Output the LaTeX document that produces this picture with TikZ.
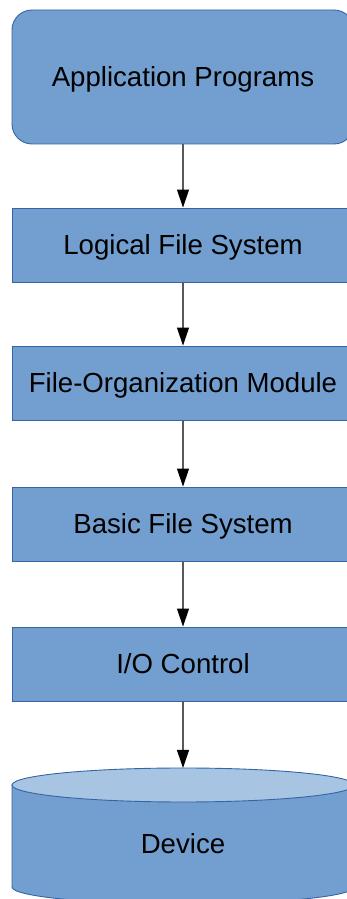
\documentclass[tikz,border=0pt]{standalone}
\usepackage{fontspec}
\setmainfont{Liberation Sans}
\usetikzlibrary{arrows.meta}
\definecolor{boxfill}{HTML}{729FCF}
\definecolor{boxline}{HTML}{3465A4}
\definecolor{lidfill}{HTML}{A7C4E3}
\definecolor{wire}{HTML}{595959}
\tikzset{
  label text/.style={font=\fontsize{27.6}{33}\selectfont, text=black,
    text height=24pt, text depth=4pt},
  layer/.style={label text, draw=boxline, fill=boxfill, line width=0.9pt,
    minimum width=342pt, minimum height=74pt, inner sep=0pt},
  toplayer/.style={layer, minimum height=134pt, rounded corners=20pt},
  flow/.style={draw=wire, line width=1.1pt,
    -{Triangle[length=18pt,width=12pt,color=black,fill=black]}},
}
\begin{document}
\begin{tikzpicture}[x=1pt,y=1pt]
\useasboundingbox (0,0) rectangle (347,899);
\clip (0,0) rectangle (347,899);

% stack of layers
\node[toplayer] (app) at (183,822) {Application Programs};
\node[layer] (lfs) at (183,654) {Logical File System};
\node[layer] (fom) at (183,516) {File-Organization Module};
\node[layer] (bfs) at (183,375) {Basic File System};
\node[layer] (ioc) at (183,235) {I/O Control};

% storage device drawn as a cylinder
\path[fill=boxfill, draw=boxline, line width=0.9pt]
  (12,114) -- (12,12) arc[start angle=180, end angle=360, x radius=171, y radius=17]
  -- (354,114);
\path[fill=lidfill, draw=boxline, line width=0.9pt]
  (183,114) ellipse [x radius=171, y radius=17];
\coordinate (devtop) at (183,131);
\node[label text, inner sep=0pt] (dev) at (183,55) {Device};

% connectors
\draw[flow] (app.south) -- (lfs.north);
\draw[flow] (lfs.south) -- (fom.north);
\draw[flow] (fom.south) -- (bfs.north);
\draw[flow] (bfs.south) -- (ioc.north);
\draw[flow] (ioc.south) -- (devtop);
\end{tikzpicture}
\end{document}
